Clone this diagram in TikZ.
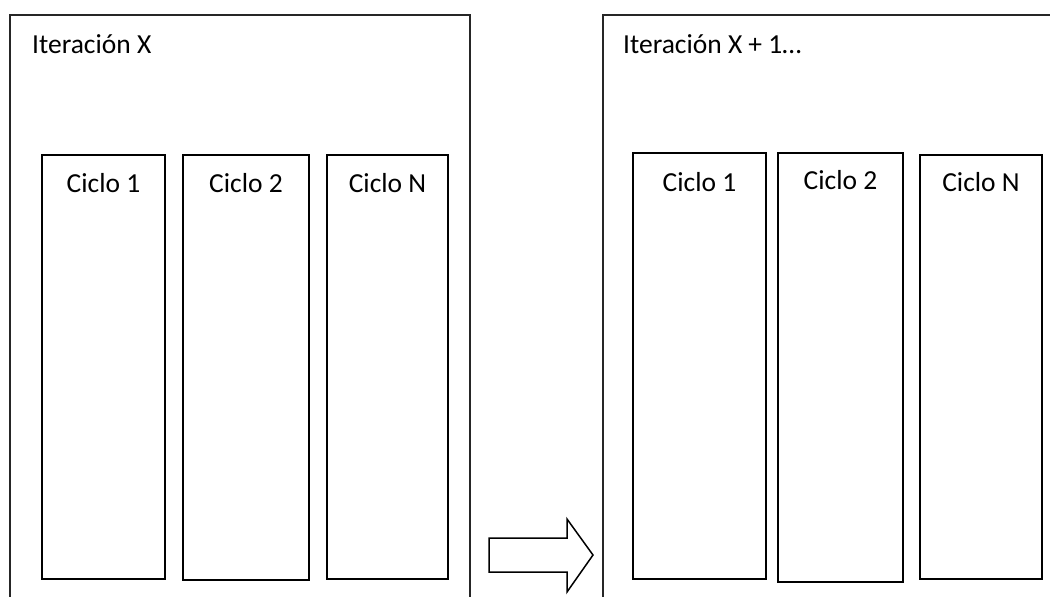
\documentclass[tikz,border=0pt]{standalone}
\usepackage{fontspec}
\setmainfont{Carlito}
\begin{document}
\begin{tikzpicture}[x=1pt,y=-1pt,
  outerbox/.style={draw=black!85,line width=1.1pt},
  cyclebox/.style={draw=black,line width=1.5pt},
  lbl/.style={font=\fontsize{27.5}{30}\selectfont,inner sep=0pt},
  blockarrow/.style={draw=black,line width=1.5pt,fill=white,line join=miter}]
\useasboundingbox (0,0) rectangle (1050,597);
\fill[white] (0,0) rectangle (1050,597);
\begin{scope}
\clip (0,0) rectangle (1050,597);
% outer iteration frames (extend beyond the page)
\draw[outerbox] (10,620) -- (10,15) -- (470,15) -- (470,620);
\draw[outerbox] (603,620) -- (603,15) -- (1080,15);
\end{scope}
\node[lbl,anchor=base west] (itx) at (32,53) {Iteración X};
\node[lbl,anchor=base west] (itx1) at (623,53) {Iteración X + 1…};
% left cycles
\draw[cyclebox] (42,155) rectangle (165,579);
\draw[cyclebox] (183,155) rectangle (309,580);
\draw[cyclebox] (327,155) rectangle (448,579);
\node[lbl,anchor=base] (l1) at (103.5,192) {Ciclo 1};
\node[lbl,anchor=base] (l2) at (246,192) {Ciclo 2};
\node[lbl,anchor=base] (lN) at (387.5,192) {Ciclo N};
% right cycles
\draw[cyclebox] (633,153) rectangle (766,579);
\draw[cyclebox] (778,153) rectangle (903,582);
\draw[cyclebox] (920,155) rectangle (1042,579);
\node[lbl,anchor=base] (r1) at (699.5,191) {Ciclo 1};
\node[lbl,anchor=base] (r2) at (840.5,189) {Ciclo 2};
\node[lbl,anchor=base] (rN) at (981,191) {Ciclo N};
% block arrow
\draw[blockarrow] (489,538) -- (567,538) -- (567,519) -- (593,555) -- (567,592) -- (567,572) -- (489,572) -- cycle;
\end{tikzpicture}
\end{document}
